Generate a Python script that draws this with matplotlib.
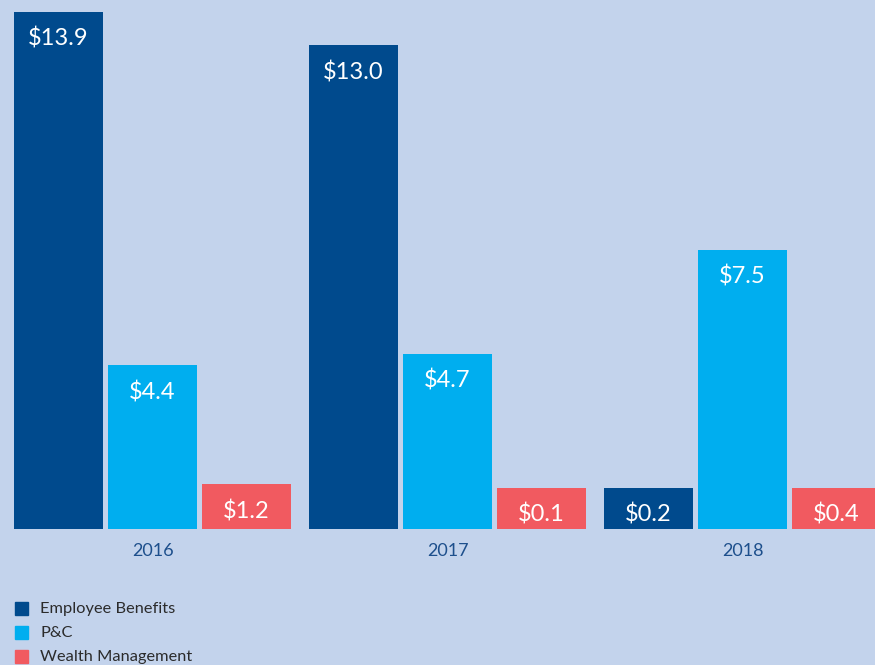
import numpy as np
import matplotlib.pyplot as plt
from matplotlib.patches import Rectangle

plt.rcParams['font.family'] = ['Lato', 'DejaVu Sans']

years = ['2016', '2017', '2018']
series = ['Employee Benefits', 'P&C', 'Wealth Management']
employee_benefits = [13.9, 13.0, 0.2]
p_and_c = [4.4, 4.7, 7.5]
wealth_mgmt = [1.2, 0.1, 0.4]

colors = ['#004a8d', '#00aeef', '#f15a60']
bg = '#c3d3ec'

fig = plt.figure(figsize=(8.75, 6.65), dpi=100, facecolor=bg)
ax = fig.add_axes([0, 0, 1, 1])
ax.set_facecolor(bg)

x = np.arange(len(years))
step = 0.3186
width = 0.3017
min_h = 1.1  # small bars kept tall enough to hold their label

for i, (name, vals, c) in enumerate(zip(series, [employee_benefits, p_and_c, wealth_mgmt], colors)):
    vals = np.array(vals)
    shown = np.maximum(vals, min_h)
    pos = x + (i - 1) * step
    ax.bar(pos, shown, width=width, color=c, label=name)
    for px, h, v in zip(pos, shown, vals):
        ax.text(px, h - 0.72, f'${v:.1f}', ha='center', va='center',
                color='white', fontsize=17)

for xi, yr in zip(x, years):
    ax.text(xi, -0.6, yr, ha='center', va='center', color='#1d4f8c', fontsize=13)

ax.set_xlim(-0.517, 2.449)
ax.set_ylim(-3.656, 14.22)
ax.axis('off')

# legend
for j, (name, c) in enumerate(zip(series, colors)):
    yy = 665 - 608 - j * 24
    fig.patches.append(Rectangle((15 / 875, (yy - 6.5) / 665), 13 / 875, 13 / 665,
                                 transform=fig.transFigure, color=c))
    fig.text(40 / 875, (yy - 1) / 665, name, ha='left', va='center',
             color='#2b2b2b', fontsize=11.8)

fig.savefig('out.png', dpi=100, facecolor=bg)
